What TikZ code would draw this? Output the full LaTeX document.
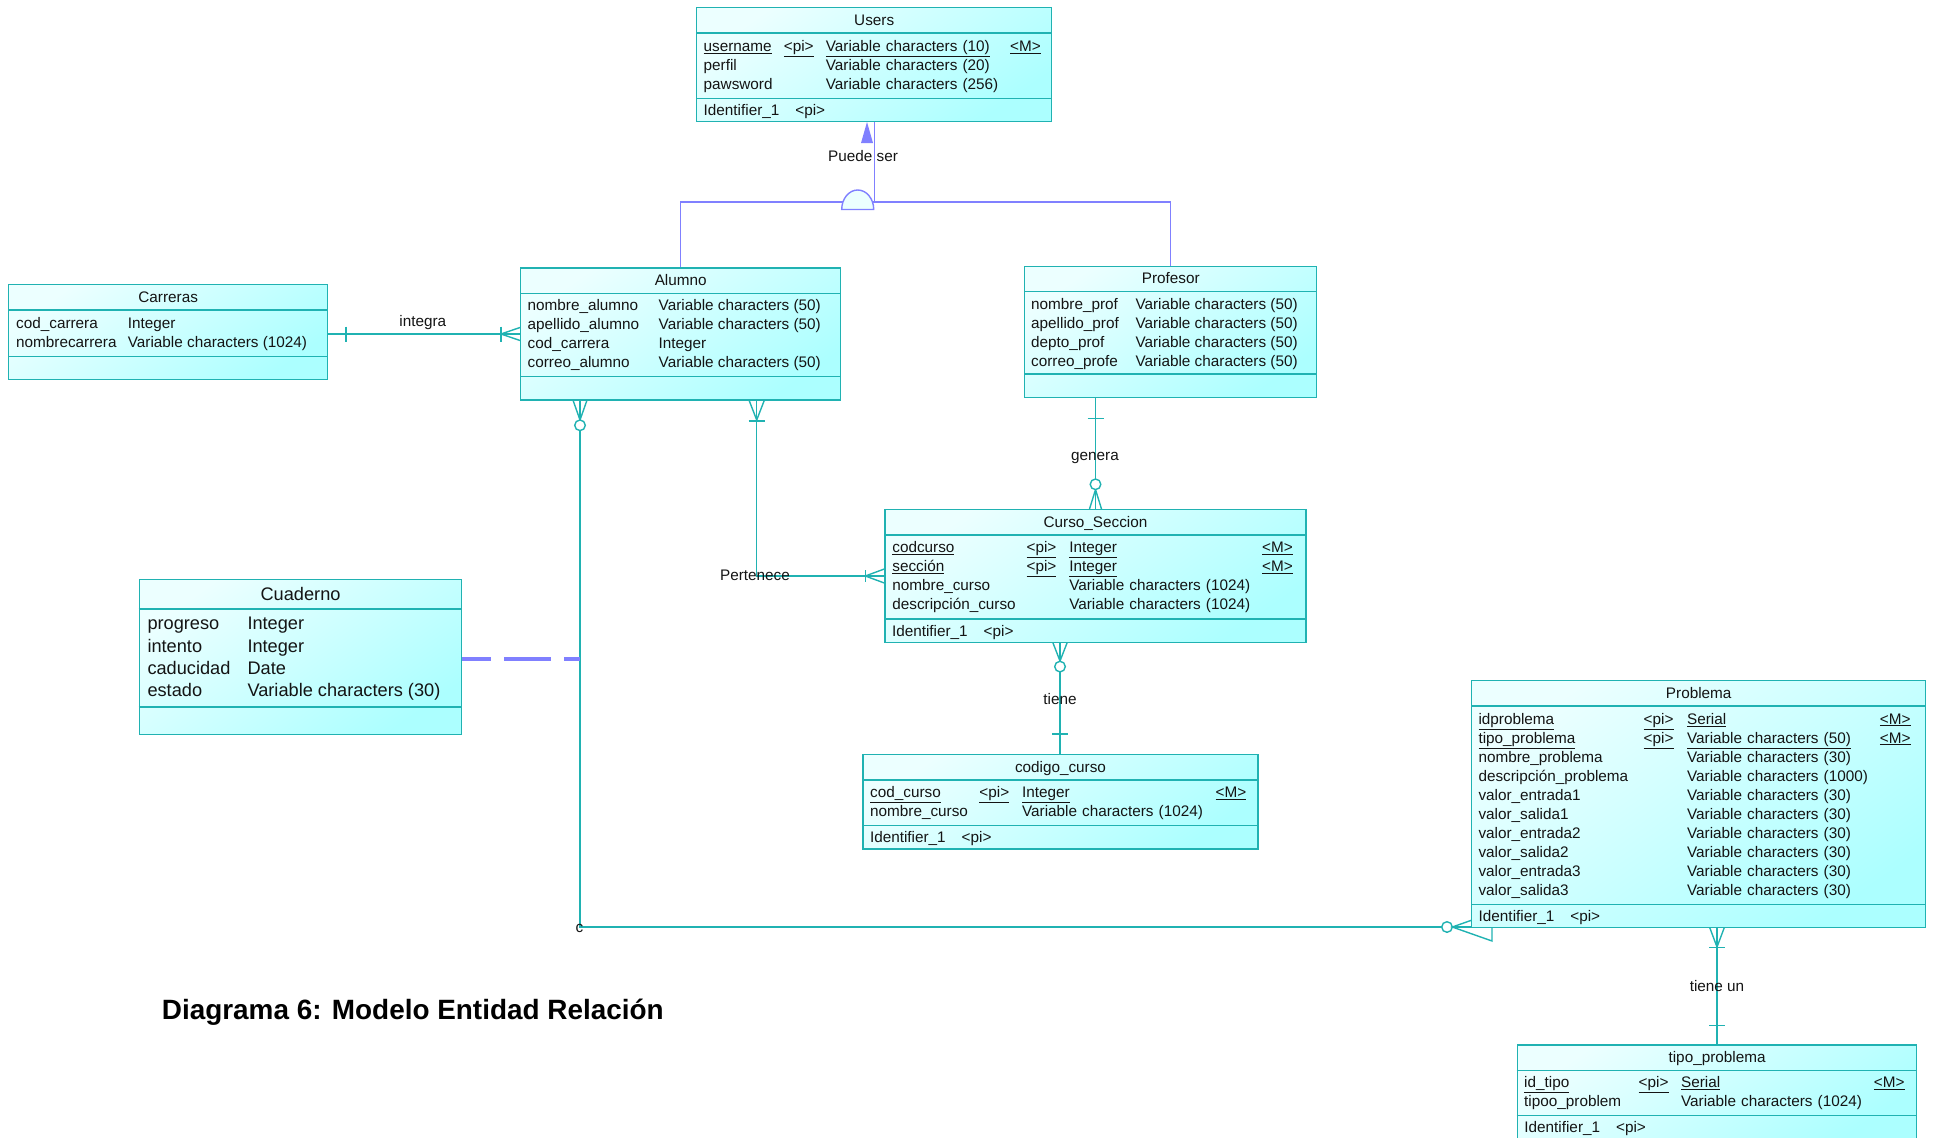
\documentclass[tikz,border=0pt]{standalone}
\usepackage{fontspec}
\setmainfont{Liberation Sans}
\usepackage{tikz}
\usetikzlibrary{matrix, backgrounds, calc}
\definecolor{erline}{RGB}{32,178,178}
\definecolor{erlight}{RGB}{236,255,255}
\definecolor{erdark}{RGB}{172,255,255}
\definecolor{erblue}{RGB}{128,128,255}
\definecolor{ertext}{RGB}{20,20,20}
\newcommand{\erfont}{\fontsize{15.3}{18}\selectfont}
\newcommand{\cuadfont}{\fontsize{18.2}{22}\selectfont}
\tikzstyle{entity} = [rectangle, draw=erline, line width=1.4pt, anchor=north west, inner sep=0pt, top color=erlight, bottom color=erdark, shading angle=35]
\tikzstyle{esep} = [draw=erline, line width=1.4pt]
\tikzstyle{etitle} = [font=\erfont, text=ertext, inner sep=0pt, text height=10.5pt, text depth=0pt]
\tikzstyle{attrs} = [matrix of nodes, anchor=north west, inner sep=0pt, nodes={anchor=base west, inner sep=0pt, text height=13pt, text depth=6pt, font=\erfont, text=ertext}]
\tikzstyle{ident} = [font=\erfont, text=ertext, anchor=base west, inner sep=0pt]
\tikzstyle{rel} = [draw=erline, line width=1.4pt]
\tikzstyle{rlabel} = [font=\erfont, text=ertext, inner sep=0pt, text height=10.5pt, text depth=0pt]
\tikzstyle{isa} = [draw=erblue, line width=1.4pt]

\begin{document}
\begin{tikzpicture}[x=1pt, y=-1pt]
\useasboundingbox (0,0) rectangle (1934,1137);
\clip (0,0) rectangle (1934,1137);

% entidades
\node[entity, minimum width=355pt, minimum height=114pt] (users) at (696,7) {};
\node[entity, minimum width=319pt, minimum height=95pt] (carreras) at (8,284) {};
\node[entity, minimum width=320pt, minimum height=132pt] (alumno) at (520,267.3) {};
\node[entity, minimum width=292pt, minimum height=131pt] (profesor) at (1024,265.7) {};
\node[entity, minimum width=421pt, minimum height=132.7pt] (curso) at (884.3,509) {};
\node[entity, minimum width=322.3pt, minimum height=155pt] (cuaderno) at (138.7,579) {};
\node[entity, minimum width=395pt, minimum height=94.3pt] (codigo) at (862.3,754) {};
\node[entity, minimum width=454pt, minimum height=247pt] (problema) at (1471,680) {};
\node[entity, minimum width=399.3pt, minimum height=94pt] (tipo) at (1516.7,1044.3) {};

\foreach \e/\t in {users/Users, carreras/Carreras, alumno/Alumno, profesor/Profesor, curso/Curso\_Seccion, codigo/codigo\_curso, problema/Problema, tipo/tipo\_problema} {
  \node[etitle] (\e-t) at ([yshift=-13pt]\e.north) {\t};
  \draw[esep] ([yshift=-26pt]\e.north west) -- ([yshift=-26pt]\e.north east);
  \draw[esep] ([yshift=24pt]\e.south west) -- ([yshift=24pt]\e.south east);
}
\node[etitle, font=\cuadfont, text height=12.5pt] (cuaderno-t) at ([yshift=-15pt]cuaderno.north) {Cuaderno};
\draw[esep] ([yshift=-30pt]cuaderno.north west) -- ([yshift=-30pt]cuaderno.north east);
\draw[esep] ([yshift=28.3pt]cuaderno.south west) -- ([yshift=28.3pt]cuaderno.south east);

\foreach \e in {users, curso, codigo, problema, tipo}
  \node[ident] (\e-id) at ([xshift=7.5pt, yshift=6.8pt]\e.south west) {Identifier\_1\hspace{16pt}<pi>};

% atributos
\matrix[attrs, column 1/.style={nodes={text width=80pt}}, column 2/.style={nodes={text width=42pt}}, column 3/.style={nodes={text width=184pt}}] (users-a) at ([xshift=7.5pt, yshift=-31.5pt]users.north west) {
  \underline{username} & \underline{<pi>} & \underline{Variable characters (10)} & \underline{<M>} \\
  perfil & & Variable characters (20) & \\
  pawsword & & Variable characters (256) & \\
};
\matrix[attrs, column 1/.style={nodes={text width=111.7pt}}] (carreras-a) at ([xshift=8pt, yshift=-31pt]carreras.north west) {
  cod\_carrera & Integer \\
  nombrecarrera & Variable characters (1024) \\
};
\matrix[attrs, column 1/.style={nodes={text width=131pt}}] (alumno-a) at ([xshift=7.5pt, yshift=-30pt]alumno.north west) {
  nombre\_alumno & Variable characters (50) \\
  apellido\_alumno & Variable characters (50) \\
  cod\_carrera & Integer \\
  correo\_alumno & Variable characters (50) \\
};
\matrix[attrs, column 1/.style={nodes={text width=104.3pt}}] (profesor-a) at ([xshift=7pt, yshift=-30.5pt]profesor.north west) {
  nombre\_prof & Variable characters (50) \\
  apellido\_prof & Variable characters (50) \\
  depto\_prof & Variable characters (50) \\
  correo\_profe & Variable characters (50) \\
};
\matrix[attrs, column 1/.style={nodes={text width=134pt}}, column 2/.style={nodes={text width=42.7pt}}, column 3/.style={nodes={text width=192.6pt}}] (curso-a) at ([xshift=7.9pt, yshift=-30.2pt]curso.north west) {
  \underline{codcurso} & \underline{<pi>} & \underline{Integer} & \underline{<M>} \\
  \underline{sección} & \underline{<pi>} & \underline{Integer} & \underline{<M>} \\
  nombre\_curso & & Variable characters (1024) & \\
  descripción\_curso & & Variable characters (1024) & \\
};
\matrix[attrs, nodes={font=\cuadfont, text height=15.5pt, text depth=6.8pt}, column 1/.style={nodes={text width=100pt}}] (cuaderno-a) at ([xshift=8.6pt, yshift=-35.1pt]cuaderno.north west) {
  progreso & Integer \\
  intento & Integer \\
  caducidad & Date \\
  estado & Variable characters (30) \\
};
\matrix[attrs, column 1/.style={nodes={text width=109pt}}, column 2/.style={nodes={text width=42.7pt}}, column 3/.style={nodes={text width=193.3pt}}] (codigo-a) at ([xshift=7.7pt, yshift=-30.7pt]codigo.north west) {
  \underline{cod\_curso} & \underline{<pi>} & \underline{Integer} & \underline{<M>} \\
  nombre\_curso & & Variable characters (1024) & \\
};
\matrix[attrs, column 1/.style={nodes={text width=165pt}}, column 2/.style={nodes={text width=43.4pt}}, column 3/.style={nodes={text width=192.6pt}}] (problema-a) at ([xshift=7.3pt, yshift=-31pt]problema.north west) {
  \underline{idproblema} & \underline{<pi>} & \underline{Serial} & \underline{<M>} \\
  \underline{tipo\_problema} & \underline{<pi>} & \underline{Variable characters (50)} & \underline{<M>} \\
  nombre\_problema & & Variable characters (30) & \\
  descripción\_problema & & Variable characters (1000) & \\
  valor\_entrada1 & & Variable characters (30) & \\
  valor\_salida1 & & Variable characters (30) & \\
  valor\_entrada2 & & Variable characters (30) & \\
  valor\_salida2 & & Variable characters (30) & \\
  valor\_entrada3 & & Variable characters (30) & \\
  valor\_salida3 & & Variable characters (30) & \\
};
\matrix[attrs, column 1/.style={nodes={text width=114.3pt}}, column 2/.style={nodes={text width=42.4pt}}, column 3/.style={nodes={text width=192.6pt}}] (tipo-a) at ([xshift=7.3pt, yshift=-30pt]tipo.north west) {
  \underline{id\_tipo} & \underline{<pi>} & \underline{Serial} & \underline{<M>} \\
  tipoo\_problem & & Variable characters (1024) & \\
};

% relaciones
\begin{scope}[on background layer]
  % integra
  \draw[rel] (carreras.east |- 0,334) -- (alumno.west |- 0,334);
  \draw[rel] (346,326.5) -- ++(0,15);
  \draw[rel] (501,326.5) -- ++(0,15);
  \draw[rel] (alumno.west |- 0,327.5) -- (501,334) -- (alumno.west |- 0,340.5);
  % Puede ser
  \draw[isa] (users.south) -- (users.south |- 0,202);
  \draw[isa] (alumno.north) |- (profesor.north |- 0,202) -- (profesor.north);
  \draw[isa, fill=erlight] (841.7,209.5) arc[start angle=180, end angle=0, x radius=16pt, y radius=19.5pt] -- cycle;
  % Alumno - Problema
  \coordinate (cpt) at (580,927);
  \draw[rel] (alumno.south -| cpt) -- (cpt) -- (cpt -| 1492,0);
  \draw[rel] (572.7,399.3) -- (580,420) -- (587.3,399.3);
  \draw[rel, fill=white] (580,425.3) circle[radius=5.3pt];
  \draw[rel, fill=white] (1447,927) circle[radius=5.3pt];
  \draw[rel] (1492,913) -- (1452.3,927) -- (1492,941) -- cycle;
  % Pertenece
  \draw[rel] (alumno.south -| 756.7,0) |- (curso.west |- 0,576);
  \draw[rel] (748.7,399.3) -- (756.7,420) -- (764.7,399.3);
  \draw[rel] (748.7,421) -- (764.7,421);
  \draw[rel] (curso.west |- 0,569) -- (865.3,576) -- (curso.west |- 0,583);
  \draw[rel] (865.3,570) -- (865.3,582);
  % genera
  \draw[rel] (profesor.south -| 1095.5,0) -- (curso.north -| 1095.5,0);
  \draw[rel] (1087.5,418.3) -- (1103.5,418.3);
  \draw[rel] (1089.5,509) -- (1095.5,489.6) -- (1101.5,509);
  \draw[rel, fill=white] (1095.5,484.3) circle[radius=5.3pt];
  % tiene
  \draw[rel] (curso.south -| 1060,0) -- (codigo.north -| 1060,0);
  \draw[rel] (1052.5,641.7) -- (1060,661) -- (1067.5,641.7);
  \draw[rel, fill=white] (1060,666.6) circle[radius=5.3pt];
  \draw[rel] (1052,734) -- (1068,734);
  % tiene un
  \draw[rel] (problema.south -| 1717,0) -- (tipo.north -| 1717,0);
  \draw[rel] (1709.5,927) -- (1717,947) -- (1724.5,927);
  \draw[rel] (1709,947.3) -- (1725,947.3);
  \draw[rel] (1709,1025.7) -- (1725,1025.7);
  % Cuaderno
  \draw[erblue, line width=4.3pt, dash pattern=on 46.7pt off 13.3pt, dash phase=18.4pt] (cuaderno.east |- 0,659.3) -- (cpt |- 0,659.3);
\end{scope}

\fill[erblue] (867,122) -- (873,143) -- (861,143) -- cycle;

\node[rlabel] (l-puede) at (863,156) {Puede ser};
\node[rlabel] (l-integra) at (422.8,321.7) {integra};
\node[rlabel] (l-pertenece) at (755,575) {Pertenece};
\node[rlabel] (l-genera) at (1095,455) {genera};
\node[rlabel] (l-tiene) at (1060,699.3) {tiene};
\node[rlabel] (l-tieneun) at (1717,986) {tiene un};
\node[rlabel, text height=8pt] (l-c) at (579.5,928.3) {c};

\node[font=\fontsize{27.9}{34}\selectfont\bfseries, anchor=base west, inner sep=0pt] (titulo) at (161.7,1019) {Diagrama 6: Modelo Entidad Relación};
\end{tikzpicture}
\end{document}
